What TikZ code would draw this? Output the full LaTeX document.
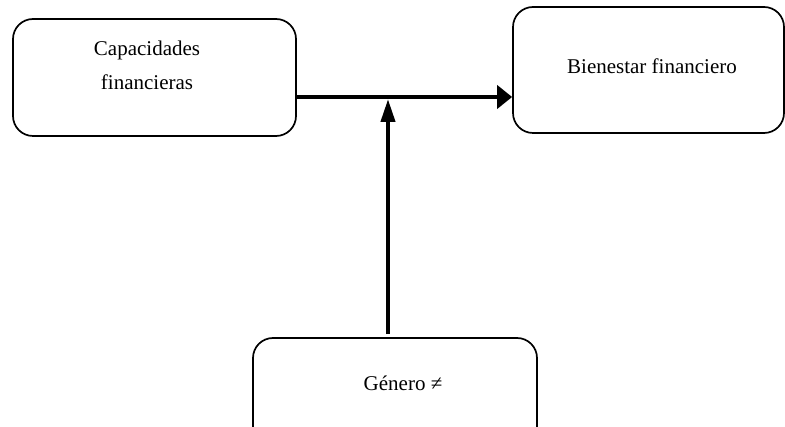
\documentclass[tikz,border=0pt]{standalone}
\usepackage{fontspec}
\setmainfont{Liberation Serif}
\usetikzlibrary{arrows.meta}
\begin{document}
\begin{tikzpicture}[x=1pt,y=-1pt,
  box/.style={draw,line width=1.7pt,rounded corners=20pt,inner sep=0pt},
  lbl/.style={font=\fontsize{21}{34}\selectfont,align=center,inner sep=0pt},
  flow/.style={line width=4pt}]
\useasboundingbox (0,0) rectangle (785,427);
% boxes
\node[box,minimum width=283pt,minimum height=117pt] (cap) at (154.5,77.5) {};
\node[box,minimum width=271pt,minimum height=126pt] (bien) at (648.5,70) {};
\node[box,minimum width=284pt,minimum height=110pt] (gen) at (395,393) {};
% texts
\node[lbl] (capt) at (147,65) {Capacidades\\financieras};
\node[lbl] (bient) at (652,66) {Bienestar financiero};
\node[lbl] (gent) at (403,383) {Género ≠};
% connectors
\coordinate (j) at (388,97);
\draw[flow,-{Triangle[length=15pt,width=23pt]}] (cap.east |- j) -- (bien.west |- j);
\draw[flow,-{Triangle[length=23pt,width=14pt]},shorten <=3pt,shorten >=2pt] (gen.north -| j) -- (j);
\end{tikzpicture}
\end{document}
